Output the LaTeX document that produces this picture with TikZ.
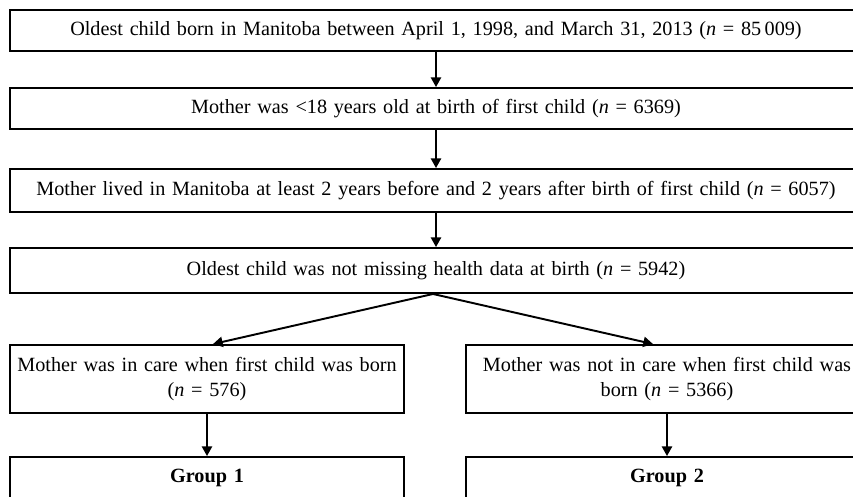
\documentclass[tikz,border=0pt]{standalone}
\usepackage{fontspec}
\setmainfont{Liberation Serif}
\usepackage{tikz}
\usetikzlibrary{arrows.meta,calc}

\begin{document}
\begin{tikzpicture}[
  box/.style={draw, line width=1.1pt, inner sep=1pt, align=center,
              font=\fontsize{11.5pt}{14pt}\selectfont},
  wide/.style={box, minimum width=17.04cm, text width=16.9cm},
  half/.style={box, minimum width=7.88cm, text width=7.8cm, minimum height=1.36cm},
  arr/.style={line width=1.1pt, -{Triangle[length=5.5pt,width=5.8pt]}}]
\clip (0,0) rectangle (17.06,-9.92);

\draw (8.72,-0.61) node (b1) [wide, minimum height=0.82cm]
  {Oldest child born in Manitoba between April 1, 1998, and March 31, 2013 (\textit{n} = 85\,009)};

\draw (8.72,-2.17) node (b2) [wide, minimum height=0.82cm]
  {Mother was <18 years old at birth of first child (\textit{n} = 6369)};
\draw[arr] (b1) -- (b2);

\draw (8.72,-3.81) node (b3) [wide, minimum height=0.86cm]
  {Mother lived in Manitoba at least 2 years before and 2 years after birth of first child (\textit{n} = 6057)};
\draw[arr] (b2) -- (b3);

\draw (8.72,-5.41) node (b4) [wide, minimum height=0.9cm]
  {Oldest child was not missing health data at birth (\textit{n} = 5942)};
\draw[arr] (b3) -- (b4);

\draw (4.14,-7.58)  node (l5) [half]
  {Mother was in care when first child was born\\(\textit{n} = 576)};
\draw (13.34,-7.58) node (r5) [half, minimum width=8.04cm, text width=7.95cm]
  {Mother was not in care when first child was\\born (\textit{n} = 5366)};
\draw[arr] ($(b4.south)+(-0.06,0)$) -- ($(l5.north)+(0.12,0)$);
\draw[arr] ($(b4.south)+(-0.06,0)$) -- ($(r5.north)+(-0.28,0)$);

\draw (4.14,-9.56)  node (l6) [half, minimum height=0.84cm] {\textbf{Group 1}};
\draw (13.34,-9.56) node (r6) [half, minimum height=0.84cm, minimum width=8.04cm, text width=7.95cm] {\textbf{Group 2}};
\draw[arr] (l5) -- (l6);
\draw[arr] (r5) -- (r6);
\end{tikzpicture}
\end{document}
